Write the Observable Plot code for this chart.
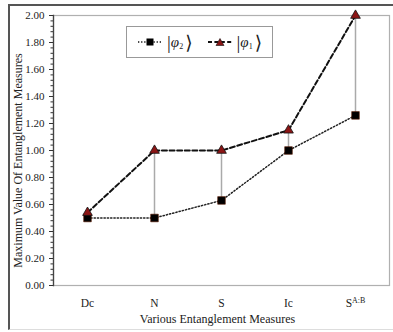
<!DOCTYPE html>
<html><head><meta charset="utf-8">
<script src="https://cdn.jsdelivr.net/npm/d3@7"></script>
<script src="https://cdn.jsdelivr.net/npm/@observablehq/plot@0.6"></script>
<style>
body{margin:0;background:#fff}
#wrap{position:relative;width:393px;height:332px;overflow:hidden;font-family:"Liberation Serif","DejaVu Serif",serif}
#frame{position:absolute;left:8px;top:4px;width:392px;height:326px;border-left:2px solid #555;border-top:2px solid #555;border-bottom:1px solid #ddd;box-sizing:border-box;pointer-events:none}
#chart{position:absolute;left:0;top:0}
#legend{position:absolute;left:126px;top:26px;width:147px;height:32px;border:1px solid #999;background:#fff;box-sizing:border-box;display:flex;align-items:center;padding-left:10px;font-size:13px;color:#222}
.item{display:flex;align-items:center;margin-right:14px}
.ket{font-size:19px;line-height:1;font-weight:300}
.phi{font-style:italic;font-size:15px}
.sub{font-size:8px;position:relative;top:4px}
</style></head>
<body>
<div id="wrap">
<div id="chart"></div>
<div id="frame"></div>
<div id="legend"></div>
</div>
<script>
const categories = ["Dc", "N", "S", "Ic", "SAB"];
const phi2 = [0.50, 0.50, 0.63, 1.00, 1.26];
const phi1 = [0.54, 1.00, 1.00, 1.15, 2.00];
const yTicks = [0, 0.2, 0.4, 0.6, 0.8, 1.0, 1.2, 1.4, 1.6, 1.8, 2.0];
const yMinorTicks = [0,0.04,0.08,0.12,0.16,0.2,0.24,0.28,0.32,0.36,0.4,0.44,0.48,0.52,0.56,0.6,0.64,0.68,0.72,0.76,0.8,0.84,0.88,0.92,0.96,1.0,1.04,1.08,1.12,1.16,1.2,1.24,1.28,1.32,1.36,1.4,1.44,1.48,1.52,1.56,1.6,1.64,1.68,1.72,1.76,1.8,1.84,1.88,1.92,1.96,2.0];
const seriesNames = ["φ2", "φ1"];
const xTitle = "Various Entanglement Measures";
const yTitle = "Maximum Value Of Entanglement Measures";

const rows2 = categories.map((c, i) => ({cat: c, v: phi2[i]}));
const rows1 = categories.map((c, i) => ({cat: c, v: phi1[i]}));
const pairs = categories.map((c, i) => ({cat: c, lo: phi2[i], hi: phi1[i]}));

const plot = Plot.plot({
  width: 393, height: 332,
  marginLeft: 53, marginRight: 4, marginTop: 15, marginBottom: 47,
  style: {fontFamily: '"Liberation Serif","DejaVu Serif",serif', fontSize: "11px", color: "#222", background: "transparent"},
  x: {type: "point", domain: categories, padding: 0.5},
  y: {domain: [0, 2]},
  marks: [
    Plot.frame({stroke: "#b0b0b0", strokeWidth: 1.2}),
    Plot.ruleX(pairs, {x: "cat", y1: "lo", y2: "hi", stroke: "#aaa", strokeWidth: 1.5}),
    Plot.line(rows2, {x: "cat", y: "v", stroke: "#222", strokeWidth: 1.5, strokeDasharray: "1.3,2"}),
    Plot.line(rows1, {x: "cat", y: "v", stroke: "#111", strokeWidth: 2, strokeDasharray: "5,2.6"}),
    Plot.dot(rows2, {x: "cat", y: "v", symbol: "square", r: 4.3, fill: "#000", stroke: "#5a1a00", strokeWidth: 0.6}),
    Plot.dot(rows1, {x: "cat", y: "v", symbol: "triangle", r: 3.6, fill: "#8b1515", stroke: "#111", strokeWidth: 0.8}),
    Plot.frame({anchor: "left", stroke: "#444", strokeWidth: 1.3}),
    Plot.axisY({ticks: yMinorTicks, tickSize: 2.5, tickFormat: () => "", label: null, stroke: "#333"}),
    Plot.axisY({ticks: yTicks, tickSize: 4, tickPadding: 5, tickFormat: d3.format(".2f"), label: null, stroke: "#333"}),
    Plot.axisX({tickSize: 0, tickPadding: 13, label: null, fontSize: 11.5,
      tickFormat: d => d === "SAB" ? "S\u200B" : d}),
    Plot.text([xTitle], {frameAnchor: "bottom", dy: 37, dx: -4, fontSize: 12, fill: "#222", textAnchor: "middle"}),
    Plot.text([yTitle], {frameAnchor: "left", dx: -35, dy: 10, rotate: -90, fontSize: 12, fill: "#222", textAnchor: "middle"})
  ]
});
document.getElementById("chart").appendChild(plot);

// superscript for S^{A:B}
d3.select(plot).selectAll("text").each(function() {
  const t = d3.select(this);
  if (t.text() === "S\u200B") {
    t.text("S");
    t.append("tspan").attr("font-size", "8px").attr("dy", "-4").text("A:B");
  }
});

// legend
const legend = d3.select("#legend");
const styles = [
  {dash: "1.3,1.8", w: 1.6, sym: "square"},
  {dash: "4,2.4", w: 2, sym: "triangle"}
];
seriesNames.forEach((name, i) => {
  const item = legend.append("div").attr("class", "item");
  const svg = item.append("svg").attr("width", 26).attr("height", 12);
  svg.append("line").attr("x1", 1).attr("x2", 25).attr("y1", 6).attr("y2", 6)
    .attr("stroke", "#111").attr("stroke-width", styles[i].w).attr("stroke-dasharray", styles[i].dash);
  if (styles[i].sym === "square") {
    svg.append("rect").attr("x", 9.5).attr("y", 2.5).attr("width", 7).attr("height", 7).attr("fill", "#000");
  } else {
    svg.append("path").attr("d", "M13,2.5L17,9.5L9,9.5Z").attr("fill", "#8b1515").attr("stroke", "#111").attr("stroke-width", 0.6);
  }
  const lab = item.append("span").style("margin-left", "4px").style("display", "flex").style("align-items", "center");
  lab.append("span").attr("class", "ket").text("|");
  lab.append("span").attr("class", "phi").text(name[0]);
  lab.append("span").attr("class", "sub").text(name.slice(1));
  lab.append("span").attr("class", "ket").style("margin-left", "2px").text("⟩");
});
</script>
</body></html>
